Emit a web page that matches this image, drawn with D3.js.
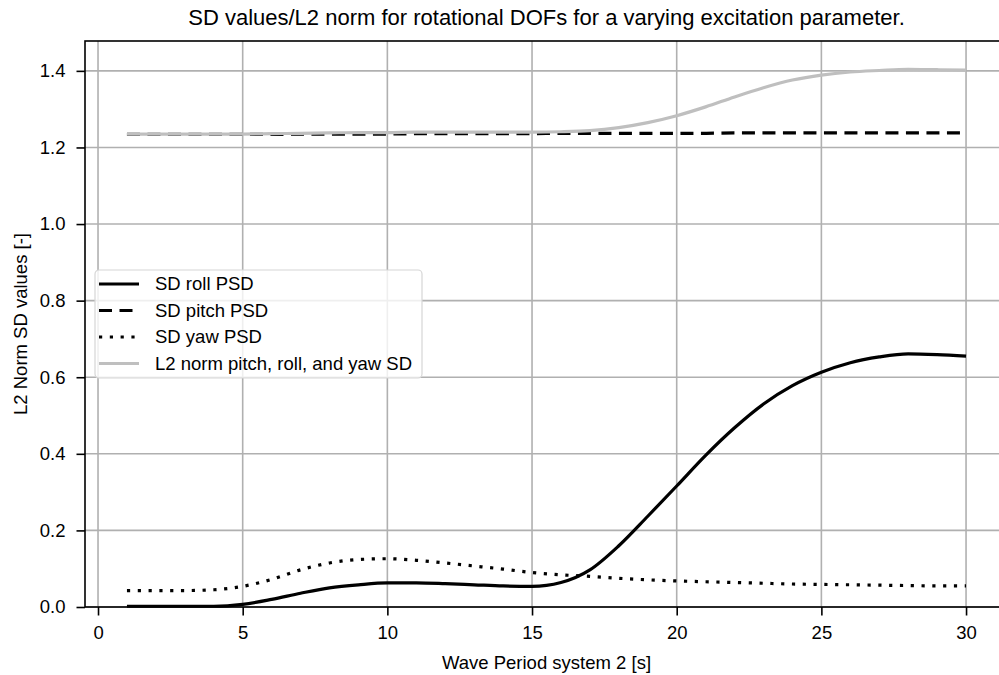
<!DOCTYPE html>
<html>
<head>
<meta charset="utf-8">
<script src="https://cdn.jsdelivr.net/npm/d3@7"></script>
<style>
  body { margin: 0; background: #fff; }
  text { font-family: "Liberation Sans", Arial, sans-serif; fill: #000; }
</style>
</head>
<body>
<svg id="chart" width="999" height="675"></svg>
<script>
// wave period [s]
const periods = d3.range(1, 31);
// values
const rollSD = [0.002, 0.002, 0.002, 0.002, 0.007, 0.020, 0.036, 0.050, 0.058, 0.063,
                0.063, 0.061, 0.058, 0.055, 0.054, 0.064, 0.097, 0.160, 0.237, 0.316,
                0.396, 0.468, 0.530, 0.578, 0.613, 0.638, 0.653, 0.661, 0.659, 0.655];
const pitchSD = [1.234, 1.234, 1.234, 1.234, 1.234, 1.234, 1.235, 1.235, 1.235, 1.235,
                 1.236, 1.236, 1.236, 1.236, 1.236, 1.237, 1.237, 1.237, 1.237, 1.237,
                 1.237, 1.238, 1.238, 1.238, 1.238, 1.238, 1.238, 1.238, 1.238, 1.238];
const yawSD = [0.043, 0.043, 0.043, 0.045, 0.054, 0.072, 0.097, 0.115, 0.124, 0.126,
               0.122, 0.115, 0.107, 0.099, 0.090, 0.084, 0.080, 0.075, 0.071, 0.068,
               0.066, 0.064, 0.062, 0.060, 0.059, 0.058, 0.057, 0.056, 0.055, 0.055];
const l2Norm = [1.235, 1.235, 1.235, 1.235, 1.235, 1.236, 1.237, 1.238, 1.239, 1.239,
                1.240, 1.240, 1.240, 1.240, 1.240, 1.241, 1.244, 1.252, 1.265, 1.283,
                1.306, 1.332, 1.356, 1.376, 1.389, 1.397, 1.401, 1.404, 1.403, 1.402];
const xTicks = [0, 5, 10, 15, 20, 25, 30];
const yTicks = [0, 0.2, 0.4, 0.6, 0.8, 1.0, 1.2, 1.4];

const series = [
  {name: 'SD roll PSD', values: rollSD, color: '#000', dash: null},
  {name: 'SD pitch PSD', values: pitchSD, color: '#000', dash: '13,7.5'},
  {name: 'SD yaw PSD', values: yawSD, color: '#000', dash: '3.2,7.6'},
  {name: 'L2 norm pitch, roll, and yaw SD', values: l2Norm, color: '#bfbfbf', dash: null}
];

const svg = d3.select('#chart');
const margin = {left: 85, top: 41, right: 1008, bottom: 607};
const fontSize = '18.5px';

const x = d3.scaleLinear().domain([-0.45, 31.45]).range([margin.left, margin.right]);
const y = d3.scaleLinear().domain([0, 1.478]).range([margin.bottom, margin.top]);

// grid
let grid = svg.append('g').attr('class', 'grid');
grid.selectAll('line.vx').data(xTicks).enter().append('line')
  .attr('x1', d => x(d)).attr('x2', d => x(d))
  .attr('y1', margin.top).attr('y2', margin.bottom)
  .attr('stroke', '#b0b0b0').attr('stroke-width', 1.6);
grid.selectAll('line.hy').data(yTicks).enter().append('line')
  .attr('x1', margin.left).attr('x2', margin.right)
  .attr('y1', d => y(d)).attr('y2', d => y(d))
  .attr('stroke', '#b0b0b0').attr('stroke-width', 1.6);

// curves
let line = d3.line().x((d, i) => x(periods[i])).y(d => y(d)).curve(d3.curveMonotoneX);
svg.append('g').selectAll('path').data(series).enter().append('path')
  .attr('d', d => line(d.values))
  .attr('fill', 'none')
  .attr('stroke', d => d.color)
  .attr('stroke-width', 3.2)
  .attr('stroke-dasharray', d => d.dash);

// axes
let xAxis = d3.axisBottom(x).tickValues(xTicks).tickFormat(d3.format('d')).tickSize(8.5).tickPadding(10.5);
let yAxis = d3.axisLeft(y).tickValues(yTicks).tickFormat(d3.format('.1f')).tickSize(8.5).tickPadding(11);

let gx = svg.append('g').attr('transform', 'translate(0,' + margin.bottom + ')').call(xAxis);
let gy = svg.append('g').attr('transform', 'translate(' + margin.left + ',0)').call(yAxis);
[gx, gy].forEach(g => {
  g.select('.domain').remove();
  g.selectAll('.tick line').attr('stroke', '#000').attr('stroke-width', 1.6);
  g.selectAll('.tick text').style('font-size', fontSize).attr('fill', '#000');
});

// spines
svg.append('rect')
  .attr('x', margin.left).attr('y', margin.top)
  .attr('width', margin.right - margin.left).attr('height', margin.bottom - margin.top)
  .attr('fill', 'none').attr('stroke', '#000').attr('stroke-width', 1.6);

// labels
svg.append('text').attr('x', (margin.left + margin.right) / 2).attr('y', 25)
  .attr('text-anchor', 'middle').style('font-size', '22px')
  .text('SD values/L2 norm for rotational DOFs for a varying excitation parameter.');
svg.append('text').attr('x', (margin.left + margin.right) / 2).attr('y', 669)
  .attr('text-anchor', 'middle').style('font-size', fontSize)
  .text('Wave Period system 2 [s]');
svg.append('text')
  .attr('transform', 'translate(27,' + ((margin.top + margin.bottom) / 2) + ') rotate(-90)')
  .attr('text-anchor', 'middle').style('font-size', fontSize)
  .text('L2 Norm SD values [-]');

// legend
let legend = svg.append('g').attr('transform', 'translate(95,270)');
legend.append('rect').attr('width', 327).attr('height', 108).attr('rx', 4)
  .attr('fill', '#fff').attr('fill-opacity', 0.8)
  .attr('stroke', '#d6d6d6').attr('stroke-width', 1.2);
let items = legend.selectAll('g.item').data(series).enter().append('g')
  .attr('transform', (d, i) => 'translate(0,' + (14 + i * 26.5) + ')');
items.append('line').attr('x1', 4).attr('x2', 44)
  .attr('stroke', d => d.color).attr('stroke-width', 3.2)
  .attr('stroke-dasharray', d => d.dash);
items.append('text').attr('x', 60).attr('dy', '0.35em').style('font-size', fontSize)
  .text(d => d.name);
</script>
</body>
</html>
